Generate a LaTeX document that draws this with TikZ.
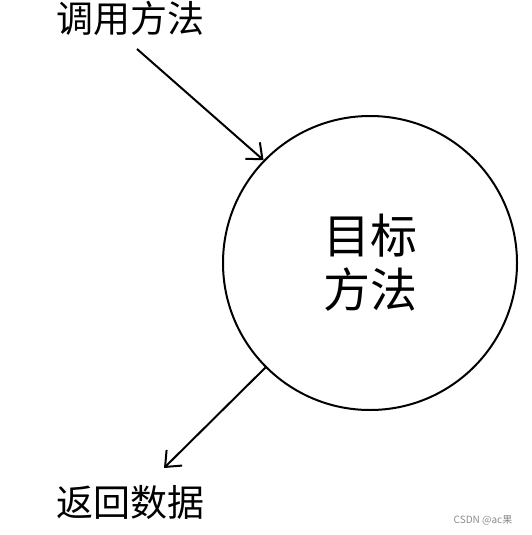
\documentclass[tikz,border=0pt]{standalone}
\usepackage{fontspec}
\setmainfont{Noto Sans CJK SC}
\usepackage{xcolor}
\colorlet{colorLine}{black}
\colorlet{colorMark}{black!45}
\usepackage{tikz}
\usetikzlibrary{arrows.meta, positioning}
\tikzset{method/.style={circle, draw=colorLine, line width=2pt, minimum size=294pt, inner sep=0pt, align=center, font=\fontsize{47}{54}\selectfont}}
\tikzset{label text/.style={inner sep=0pt, font=\fontsize{37}{40}\selectfont}}
\begin{document}
\begin{tikzpicture}[x=1pt, y=-1pt, >={Straight Barb[length=13pt, width=22pt, line width=2pt]}, line width=2pt]
\useasboundingbox (0,0) rectangle (531,535);
\node[method] (target) at (370,263) {目标\\方法};
\node[label text] (call) at (130,18) {调用方法};
\node[label text] (ret) at (130,502) {返回数据};
\node[inner sep=0pt, text=colorMark, font=\fontsize{10}{12}\selectfont] (mark) at (483,520) {CSDN @ac果};
\coordinate (callstart) at (137,49);
\coordinate (retend) at (164,468);
\draw [->, colorLine] (callstart) -- (target.136);
\draw [->, colorLine] (target.225) -- (retend);
\end{tikzpicture}
\end{document}
